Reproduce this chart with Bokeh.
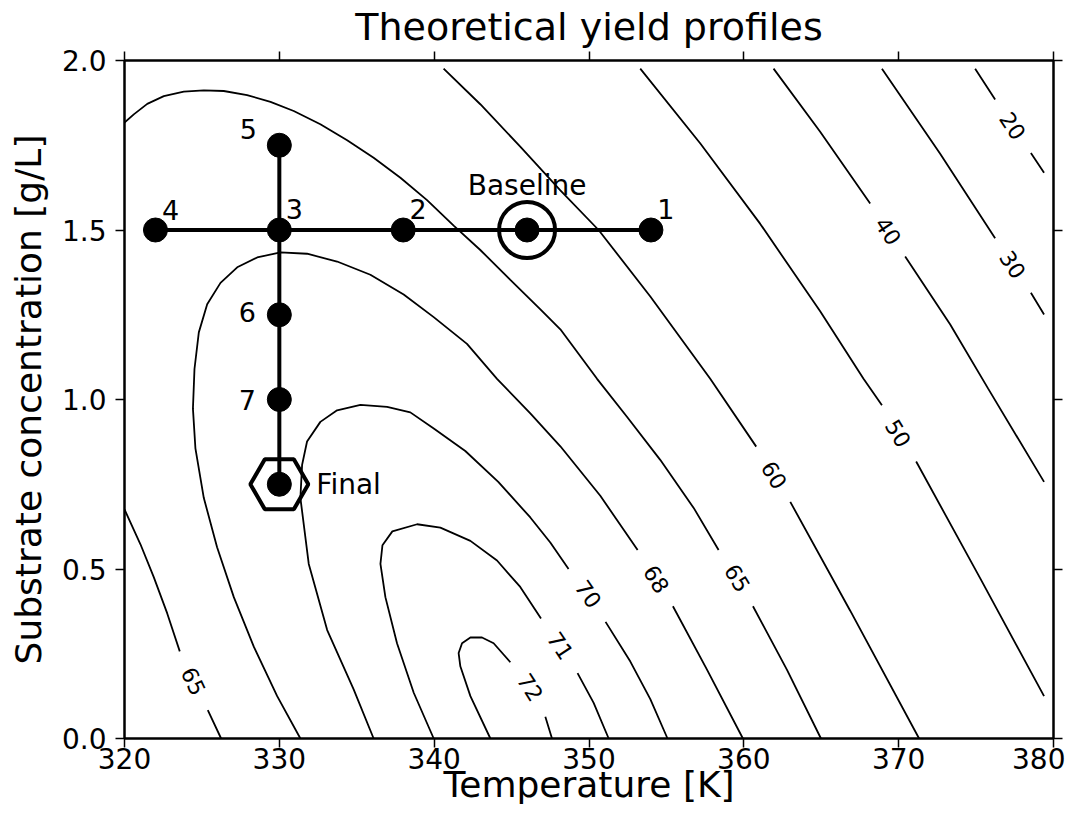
import math
from bokeh.plotting import figure
from bokeh.models import LinearAxis, FixedTicker, PrintfTickFormatter, ColumnDataSource
from bokeh.core.properties import value
from bokeh.embed import file_html
from bokeh.resources import INLINE

nan = float("nan")
FONT = "DejaVu Sans"

# ---------------- data ----------------
x_ticks = [320, 330, 340, 350, 360, 370, 380]
y_ticks = [0.0, 0.5, 1.0, 1.5, 2.0]

# contour lines (temperature K, substrate g/L); nan = label gap
c65_T = [320.0, 320.60, 321.47, 322.54, 323.83, 325.12, 326.41, 327.92, 329.43, 330.93, 332.65, 334.38,
         336.09, 337.82, 339.54, 341.26, 342.98, 344.92, 346.86, 348.15, 350.52, 352.45, 354.60, 356.75,
         358.37, nan, 360.59, 362.78, 364.98]
c65_S = [1.817, 1.841, 1.872, 1.895, 1.908, 1.912, 1.910, 1.898, 1.878, 1.851, 1.812, 1.765,
         1.713, 1.654, 1.588, 1.513, 1.441, 1.353, 1.266, 1.207, 1.061, 0.949, 0.822, 0.681,
         0.556, nan, 0.390, 0.203, 0.0]
c65b_T = [320.0, 321.03, 321.89, 322.76, 323.57, nan, 325.38, 326.24]
c65b_S = [0.676, 0.573, 0.476, 0.369, 0.257, nan, 0.084, 0.0]
c68_T = [331.36, 329.86, 328.35, 327.06, 325.98, 325.12, 324.58, 324.42, 324.52, 324.80, 325.34, 326.20,
         327.28, 328.57, 330.07, 331.79, 333.73, 335.88, 338.03, 339.97, 342.12, 344.06, 346.21, 348.15,
         350.73, 353.14, nan, 355.42, 357.62, 359.94]
c68_S = [0.0, 0.125, 0.271, 0.417, 0.564, 0.710, 0.856, 0.973, 1.090, 1.198, 1.281, 1.344,
         1.390, 1.419, 1.434, 1.430, 1.407, 1.368, 1.310, 1.243, 1.164, 1.061, 0.959, 0.862,
         0.716, 0.556, nan, 0.390, 0.203, 0.0]
c70_T = [336.09, 334.80, 333.09, 331.90, 331.36, 331.47, 331.79, 332.65, 333.73, 335.24, 336.96, 338.46,
         339.95, 342.01, 344.14, 346.21, 347.50, 348.68, nan, 351.07, 352.67, 353.96, 355.07]
c70_S = [0.0, 0.145, 0.320, 0.515, 0.710, 0.807, 0.876, 0.934, 0.968, 0.984, 0.978, 0.962,
         0.915, 0.848, 0.757, 0.652, 0.578, 0.500, nan, 0.344, 0.227, 0.116, 0.0]
c71_T = [339.97, 338.68, 337.60, 336.85, 336.53, 336.66, 337.30, 338.90, 340.40, 342.34, 344.06, 345.56,
         346.90, nan, 349.26, 350.30, 351.27]
c71_S = [0.0, 0.135, 0.281, 0.417, 0.515, 0.570, 0.611, 0.632, 0.622, 0.583, 0.525, 0.447,
         0.354, nan, 0.193, 0.105, 0.0]
c72_T = [343.63, 342.34, 341.69, 341.58, 341.80, 342.34, 343.09, 343.84, 344.92, nan, 347.18, 347.61]
c72_S = [0.0, 0.125, 0.213, 0.252, 0.281, 0.298, 0.298, 0.281, 0.225, nan, 0.064, 0.0]
c60_T = [340.61, 342.98, 345.56, 348.15, 350.62, 353.96, 357.83, 360.80, nan, 363.00, 366.87, 371.32]
c60_S = [1.976, 1.871, 1.746, 1.617, 1.500, 1.304, 1.061, 0.861, nan, 0.698, 0.377, 0.0]
c50_T = [353.31, 357.19, 361.06, 364.93, 367.73, 368.92, nan, 371.13, 375.26, 379.39]
c50_S = [1.976, 1.755, 1.518, 1.260, 1.061, 0.983, nan, 0.817, 0.473, 0.125]
c40_T = [361.92, 364.93, 368.16, nan, 370.42, 373.32, 375.78, 379.39]
c40_S = [1.976, 1.790, 1.578, nan, 1.422, 1.222, 1.032, 0.757]
c30_T = [368.92, 372.68, 376.23, nan, 378.54, 379.39]
c30_S = [1.976, 1.725, 1.476, nan, 1.315, 1.251]
c20_T = [374.94, 376.23, nan, 378.54, 379.39]
c20_S = [1.976, 1.885, nan, 1.727, 1.669]

# contour labels
clabel_text = ["20", "30", "40", "50", "60", "65", "68", "70", "71", "72", "65"]
clabel_T = [377.36, 377.36, 369.32, 369.97, 361.96, 359.58, 354.35, 349.95, 348.15, 346.21, 324.45]
clabel_S = [1.807, 1.398, 1.497, 0.900, 0.777, 0.473, 0.470, 0.426, 0.274, 0.151, 0.169]
clabel_rot = [56.5, 57.0, 56.8, 58.8, 58.6, 58.7, 58.0, 55.5, 56.4, 57.5, 64.6]  # degrees clockwise

# experiment points
pt_name = ["1", "2", "3", "4", "5", "6", "7"]
pt_T = [354, 338, 330, 322, 330, 330, 330]
pt_S = [1.5, 1.5, 1.5, 1.5, 1.75, 1.25, 1.0]
baseline_T, baseline_S = 346, 1.5
final_T, final_S = 330, 0.75

# label offsets (screen px) - style only
pt_dx = [15, 15, 15, 15, -31, -32, -32]
pt_dy = [-21, -21, -21, -20, -16, -3, 0]

# ---------------- figure ----------------
p = figure(width=1065, height=814, x_range=(320, 380), y_range=(0, 2),
           output_backend="svg", toolbar_location=None,
           title="Theoretical yield profiles",
           min_border_left=124, min_border_right=12, min_border_top=59, min_border_bottom=76)
p.background_fill_color = "white"
p.border_fill_color = "white"
p.grid.visible = False
p.outline_line_color = "black"
p.outline_line_width = 2

p.title.text_font = FONT
p.title.text_font_size = "38px"
p.title.text_font_style = "normal"
p.title.text_color = "black"
p.title.align = "center"
p.title.standoff = 5

xt = FixedTicker(ticks=x_ticks)
yt = FixedTicker(ticks=y_ticks)


def style_axis(ax, ticker):
    ax.ticker = ticker
    ax.major_tick_out = 9
    ax.major_tick_in = 0
    ax.minor_tick_out = 0
    ax.minor_tick_in = 0
    ax.axis_line_width = 2
    ax.major_tick_line_width = 1.5
    ax.major_label_text_font = FONT
    ax.major_label_text_font_size = "28px"
    ax.major_label_text_color = "black"
    ax.axis_label_text_font = FONT
    ax.axis_label_text_font_size = "36px"
    ax.axis_label_text_font_style = "normal"
    ax.axis_label_text_color = "black"


xa = p.xaxis[0]
style_axis(xa, xt)
xa.axis_label = "Temperature [K]"
xa.major_label_standoff = 0
xa.axis_label_standoff = -8

ya = p.yaxis[0]
style_axis(ya, yt)
ya.axis_label = "Substrate concentration [g/L]"
ya.formatter = PrintfTickFormatter(format="%.1f")
ya.major_label_standoff = 9
ya.axis_label_standoff = 10

top = LinearAxis()
style_axis(top, xt)
top.major_label_text_font_size = "0px"
top.major_label_standoff = 0
p.add_layout(top, "above")

right = LinearAxis()
style_axis(right, yt)
right.major_label_text_font_size = "0px"
right.major_label_standoff = 0
p.add_layout(right, "right")

# contour lines
for cT, cS in [(c65_T, c65_S), (c65b_T, c65b_S), (c68_T, c68_S), (c70_T, c70_S), (c71_T, c71_S),
               (c72_T, c72_S), (c60_T, c60_S), (c50_T, c50_S), (c40_T, c40_S), (c30_T, c30_S),
               (c20_T, c20_S)]:
    p.line(cT, cS, line_color="black", line_width=1.8)

# contour labels
p.text(x=clabel_T, y=clabel_S, text=clabel_text, angle=[-a for a in clabel_rot], angle_units="deg",
       text_font=value(FONT), text_font_size=value("22px"), text_color="black",
       text_align="center", text_baseline="middle")

# experiment path
h_T = sorted([t for t, s in zip(pt_T, pt_S) if s == baseline_S] + [baseline_T])
v_S = sorted([s for t, s in zip(pt_T, pt_S) if t == final_T] + [final_S])
p.line(h_T, [baseline_S] * len(h_T), line_color="black", line_width=4)
p.line([final_T] * len(v_S), v_S, line_color="black", line_width=4)

p.scatter(pt_T + [baseline_T, final_T], pt_S + [baseline_S, final_S], marker="circle", size=24,
          fill_color="black", line_color="black")
p.scatter([baseline_T], [baseline_S], marker="circle", size=56, fill_color=None,
          line_color="black", line_width=4)
p.scatter([final_T], [final_S], marker="hex", size=58, fill_color=None,
          line_color="black", line_width=4)

src = ColumnDataSource(dict(x=pt_T, y=pt_S, t=pt_name, dx=pt_dx, dy=pt_dy))
p.text(x="x", y="y", text="t", x_offset="dx", y_offset="dy", source=src,
       text_font=value(FONT), text_font_size=value("27px"), text_color="black",
       text_align="center", text_baseline="middle")
p.text(x=[baseline_T], y=[baseline_S], text=["Baseline"], y_offset=-45,
       text_font=value(FONT), text_font_size=value("28px"), text_color="black",
       text_align="center", text_baseline="middle")
p.text(x=[final_T], y=[final_S], text=["Final"], x_offset=37,
       text_font=value(FONT), text_font_size=value("28px"), text_color="black",
       text_align="left", text_baseline="middle")

open("out.html", "w").write(file_html(p, INLINE))
